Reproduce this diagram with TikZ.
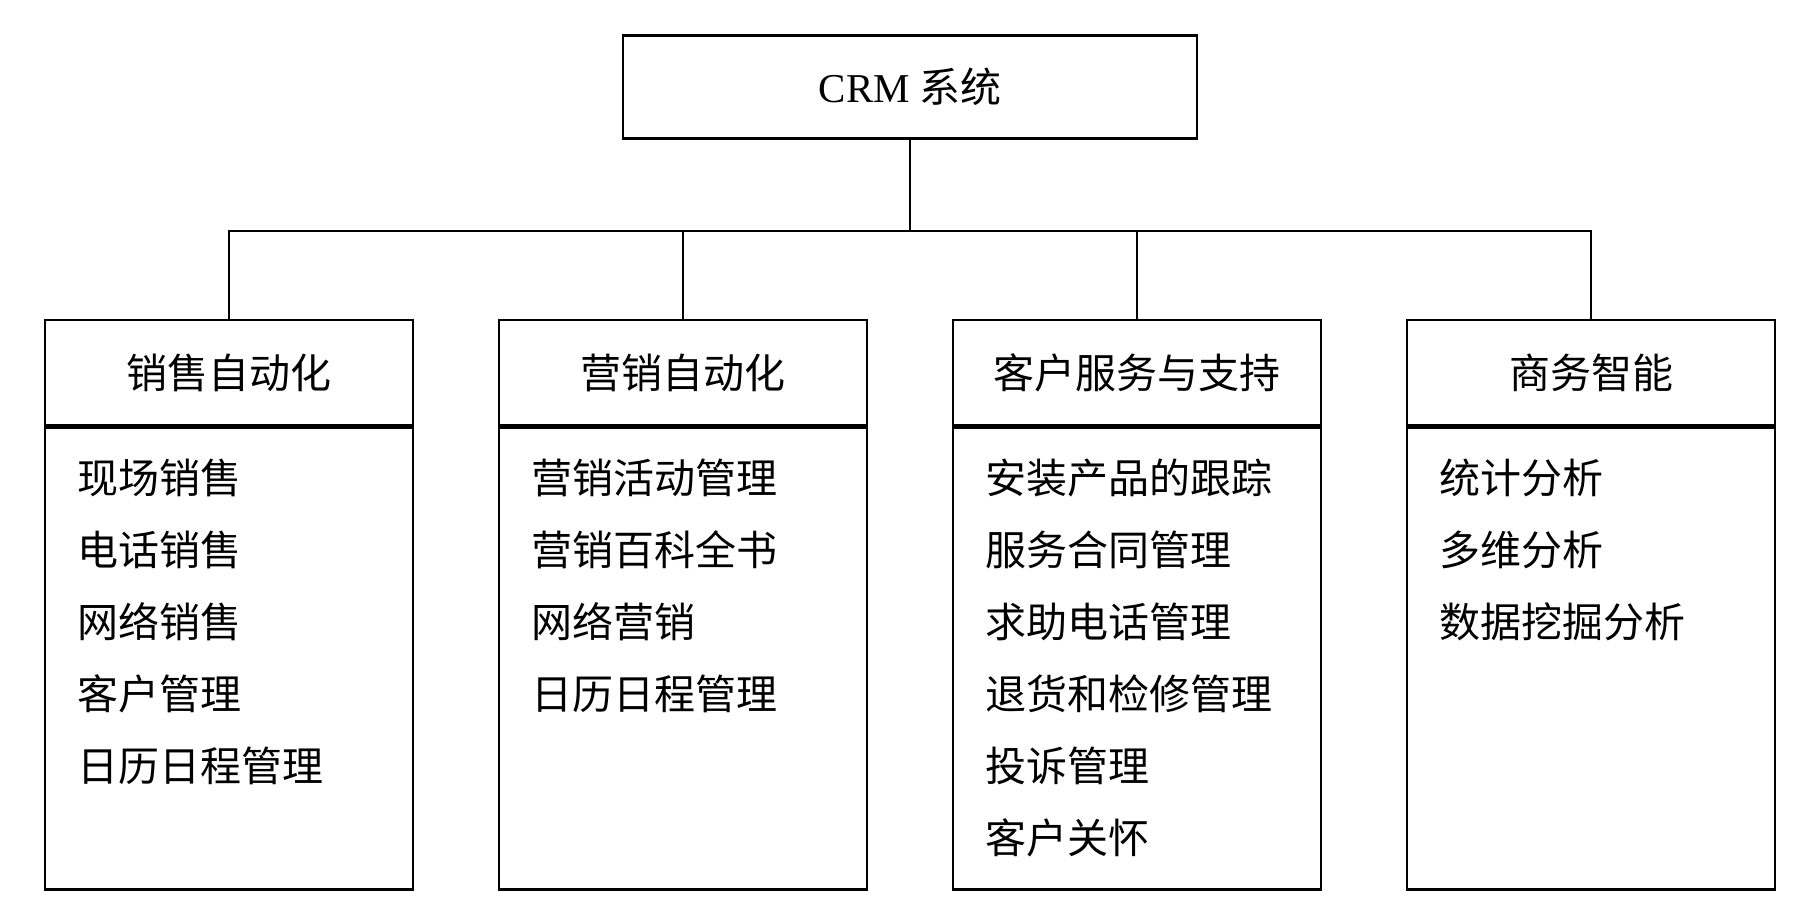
\documentclass[tikz,border=0pt]{standalone}
\usepackage{fontspec}
\setmainfont{Liberation Serif}
\newfontfamily\cjk{Noto Sans CJK SC}
\usetikzlibrary{positioning}

\tikzset{
  topbox/.style={draw, line width=1.2pt, minimum width=287pt, minimum height=51.5pt, font=\cjk\fontsize{20.5}{24}\selectfont},
  headbox/.style={draw, line width=1.2pt, minimum width=184pt, minimum height=52.5pt, inner sep=0pt, font=\cjk\fontsize{20.5}{24}\selectfont},
  bodybox/.style={draw, line width=1.2pt, minimum width=184pt, minimum height=231pt, inner sep=0pt},
  itemlist/.style={anchor=north west, align=left, inner sep=0pt, font=\cjk\fontsize{20.5}{36}\selectfont},
  divider/.style={line width=2.6pt},
  link/.style={line width=1.2pt}
}

\begin{document}
\begin{tikzpicture}[x=0.5pt, y=-0.5pt]
    \useasboundingbox (0,0) rectangle (1820,918);

    \node[topbox] (CRM) at (910,87) {{\rmfamily CRM} 系统};
    \coordinate (BUS) at (910,231);

    \node[headbox] (SFA) at (229,372.5) {销售自动化};
    \node[headbox] (MKT) at (683,372.5) {营销自动化};
    \node[headbox] (SRV) at (1137,372.5) {客户服务与支持};
    \node[headbox] (BI) at (1591,372.5) {商务智能};

    \node[bodybox, below=0pt of SFA] (SFAbody) {};
    \node[bodybox, below=0pt of MKT] (MKTbody) {};
    \node[bodybox, below=0pt of SRV] (SRVbody) {};
    \node[bodybox, below=0pt of BI] (BIbody) {};

    \draw[divider] (SFA.south west) -- (SFA.south east);
    \draw[divider] (MKT.south west) -- (MKT.south east);
    \draw[divider] (SRV.south west) -- (SRV.south east);
    \draw[divider] (BI.south west) -- (BI.south east);

    \node[itemlist] (SFAitems) at ([xshift=16.5pt, yshift=-16pt]SFAbody.north west)
      {现场销售\\电话销售\\网络销售\\客户管理\\日历日程管理};
    \node[itemlist] (MKTitems) at ([xshift=16.5pt, yshift=-16pt]MKTbody.north west)
      {营销活动管理\\营销百科全书\\网络营销\\日历日程管理};
    \node[itemlist] (SRVitems) at ([xshift=16.5pt, yshift=-16pt]SRVbody.north west)
      {安装产品的跟踪\\服务合同管理\\求助电话管理\\退货和检修管理\\投诉管理\\客户关怀};
    \node[itemlist] (BIitems) at ([xshift=16.5pt, yshift=-16pt]BIbody.north west)
      {统计分析\\多维分析\\数据挖掘分析};

    \draw[link] (CRM) -- (BUS);
    \draw[link] (BUS) -| (SFA);
    \draw[link] (BUS) -| (MKT);
    \draw[link] (BUS) -| (SRV);
    \draw[link] (BUS) -| (BI);
\end{tikzpicture}
\end{document}
